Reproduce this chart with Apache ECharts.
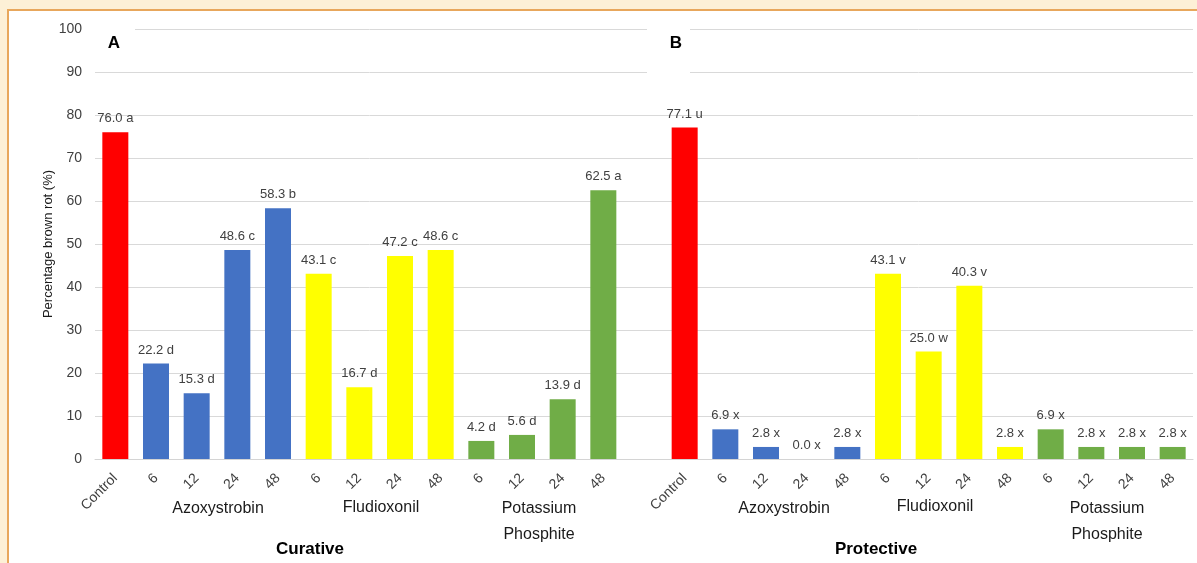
<!DOCTYPE html>
<html>
<head>
<meta charset="utf-8">
<script src="https://cdn.jsdelivr.net/npm/echarts@6/dist/echarts.min.js"></script>
<style>
  html, body { margin: 0; padding: 0; background: #fdf0d6; }
  .frame {
    position: absolute; left: 7px; top: 9px; right: 0; bottom: 0;
    background: #ffffff;
    border-top: 2px solid #e8a75c;
    border-left: 2px solid #e8a75c;
  }
  #chart { position: absolute; left: 0; top: 0; width: 1197px; height: 563px; }
</style>
</head>
<body>
<div class="frame"></div>
<div id="chart"></div>
<script>
// categories: curative block, one empty slot, protective block
const categories = [
  "Control", "6", "12", "24", "48", "6", "12", "24", "48", "6", "12", "24", "48",
  "",
  "Control", "6", "12", "24", "48", "6", "12", "24", "48", "6", "12", "24", "48",
];
// treatment of each slot: C = control, A = azoxystrobin, F = fludioxonil, P = potassium phosphite
const treatments = [
  "C", "A", "A", "A", "A", "F", "F", "F", "F", "P", "P", "P", "P",
  "",
  "C", "A", "A", "A", "A", "F", "F", "F", "F", "P", "P", "P", "P",
];
const curativeValues = [76.0, 22.2, 15.3, 48.6, 58.3, 43.1, 16.7, 47.2, 48.6, 4.2, 5.6, 13.9, 62.5];
const curativeLetters = ["a", "d", "d", "c", "b", "c", "d", "c", "c", "d", "d", "d", "a"];
const protectiveValues = [77.1, 6.9, 2.8, 0.0, 2.8, 43.1, 25.0, 40.3, 2.8, 6.9, 2.8, 2.8, 2.8];
const protectiveLetters = ["u", "x", "x", "x", "x", "v", "w", "v", "x", "x", "x", "x", "x"];
const yTicks = [0, 100, 10]; // min, max, interval

const colorMap = { C: "#ff0000", A: "#4472c4", F: "#ffff00", P: "#70ad47" };
const font = "'Liberation Sans', Arial, sans-serif";

let values = curativeValues.concat(["-"], protectiveValues);
let letters = curativeLetters.concat([""], protectiveLetters);

let seriesData = values.map((v, i) => {
  if (v === "-") return "-";
  return { value: v, itemStyle: { color: colorMap[treatments[i]] } };
});

let myChart = echarts.init(document.getElementById("chart"), null, { renderer: "canvas" });

let option = {
  backgroundColor: "transparent",
  animation: false,
  textStyle: { fontFamily: font },
  grid: { left: 95, right: 4, top: 29, bottom: 104 },
  xAxis: {
    type: "category",
    data: categories,
    axisTick: { show: false },
    axisLine: { show: true, lineStyle: { color: "#d4d4d4", width: 1 } },
    axisLabel: {
      interval: 0,
      rotate: 45,
      margin: 17,
      fontSize: 14,
      color: "#404040",
      fontFamily: font,
    },
  },
  yAxis: {
    type: "value",
    min: yTicks[0],
    max: yTicks[1],
    interval: yTicks[2],
    name: "Percentage brown rot (%)",
    nameLocation: "middle",
    nameGap: 40,
    nameMoveOverlap: false,
    nameTextStyle: { fontSize: 13, color: "#1a1a1a", fontFamily: font },
    axisLine: { show: false },
    axisTick: { show: false },
    axisLabel: { fontSize: 14, color: "#404040", margin: 13, fontFamily: font },
    splitLine: { lineStyle: { color: "#d9d9d9", width: 1 } },
  },
  series: [
    {
      type: "bar",
      data: seriesData,
      barWidth: 26,
      label: {
        show: true,
        position: "top",
        distance: 7,
        fontSize: 13,
        color: "#404040",
        fontFamily: font,
        formatter: (p) => p.value.toFixed(1) + " " + letters[p.dataIndex],
      },
    },
  ],
};
myChart.setOption(option);

// annotations: panel letters, treatment group names, mode names
function txt(x, y, text, bold) {
  return {
    type: "text", x: x, y: y, z: 100,
    style: {
      text: text,
      fontFamily: font,
      fontSize: bold ? 17 : 16,
      fontWeight: bold ? "bold" : "normal",
      fill: bold ? "#000000" : "#1a1a1a",
      align: "center",
      verticalAlign: "middle",
    },
  };
}
myChart.setOption({
  graphic: [
    { type: "rect", shape: { x: 95, y: 20, width: 40, height: 14 }, style: { fill: "#ffffff" }, z: 99 },
    { type: "rect", shape: { x: 647, y: 20, width: 43, height: 60 }, style: { fill: "#ffffff" }, z: 99 },
    txt(114, 43, "A", true),
    txt(676, 43, "B", true),
    txt(218, 509, "Azoxystrobin"),
    txt(381, 508, "Fludioxonil"),
    txt(539, 509, "Potassium"),
    txt(539, 535, "Phosphite"),
    txt(784, 509, "Azoxystrobin"),
    txt(935, 507, "Fludioxonil"),
    txt(1107, 509, "Potassium"),
    txt(1107, 535, "Phosphite"),
    txt(310, 549, "Curative", true),
    txt(876, 549, "Protective", true),
  ],
});
</script>
</body>
</html>
